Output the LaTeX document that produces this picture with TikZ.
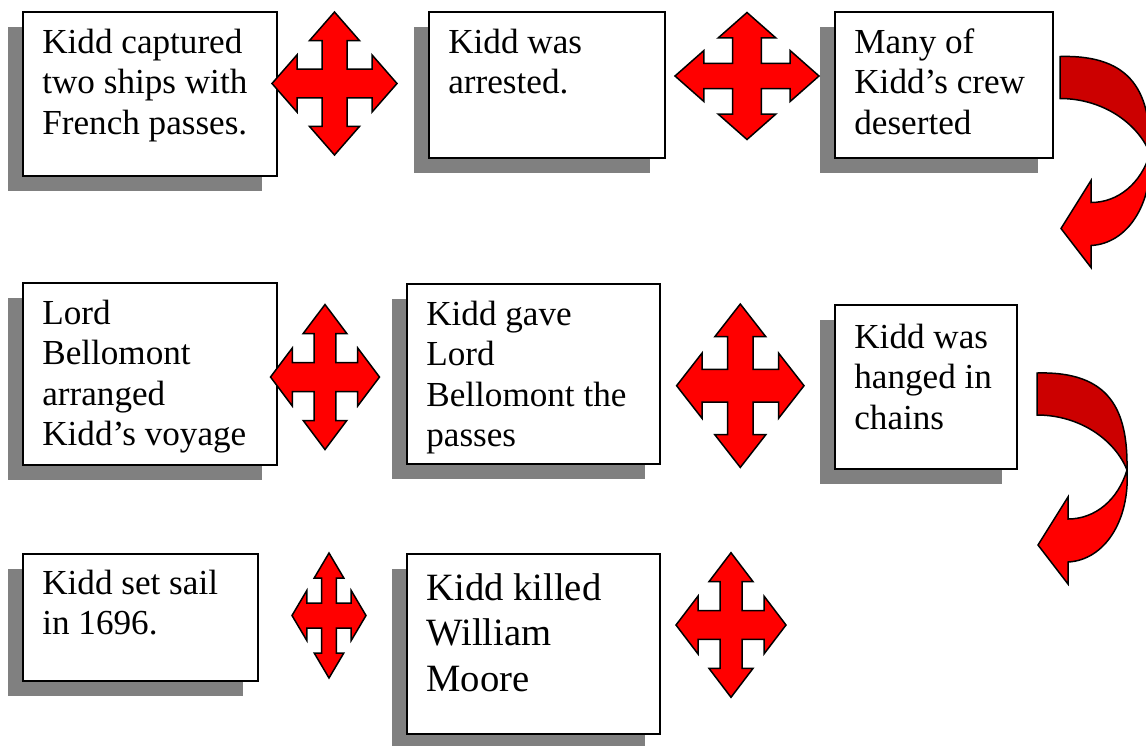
\documentclass[tikz,border=0pt]{standalone}
\usepackage{fontspec}
\setmainfont{LiberationSerif}[Extension=.ttf, UprightFont=*-Regular, BoldFont=*-Bold, ItalicFont=*-Italic, BoldItalicFont=*-BoldItalic]
\usetikzlibrary{shadows}
\newcommand\topstrut{\rule{0pt}{16pt}}
\newcommand\bigtopstrut{\rule{0pt}{18pt}}
\newcommand\quadarrow[4]{%
  \begin{scope}[shift={(#1,#2)}, xscale=#3, yscale=#4]
    \draw[quad] (0,1) -- (0.4,0.6) -- (0.2,0.6) -- (0.2,0.2) -- (0.6,0.2) -- (0.6,0.4) -- (1,0)
      -- (0.6,-0.4) -- (0.6,-0.2) -- (0.2,-0.2) -- (0.2,-0.6) -- (0.4,-0.6) -- (0,-1)
      -- (-0.4,-0.6) -- (-0.2,-0.6) -- (-0.2,-0.2) -- (-0.6,-0.2) -- (-0.6,-0.4) -- (-1,0)
      -- (-0.6,0.4) -- (-0.6,0.2) -- (-0.2,0.2) -- (-0.2,0.6) -- (-0.4,0.6) -- cycle;
  \end{scope}}
\newcommand\curvedarrow[2]{%
  \begin{scope}[shift={(#1,#2)}]
    \draw[darkband] (1037,373) -- (1037,415)
      .. controls (1080,415) and (1115,440) .. (1127,470)
      .. controls (1128,410) and (1110,371) .. (1037,373) -- cycle;
    \draw[brightband] (1127,470)
      .. controls (1118,500) and (1095,519) .. (1068,519)
      -- (1068,497) -- (1038,545) -- (1068,584) -- (1068,562)
      .. controls (1105,560) and (1130,520) .. (1127,470) -- cycle;
  \end{scope}}
\tikzset{
  box/.style={draw=black, line width=1pt, fill=white, rectangle, inner sep=0pt,
    anchor=north west,
    drop shadow={shadow xshift=-0.3cm, shadow yshift=-0.3cm, fill=black!50, opacity=1, draw=none}},
  txt/.style={anchor=north west, inner sep=0pt, align=left, font=\fontsize{20}{23}\selectfont},
  bigtxt/.style={anchor=north west, inner sep=0pt, align=left, font=\fontsize{22}{26}\selectfont},
  quad/.style={draw=black, line width=0.85pt, fill=red},
  darkband/.style={draw=black, line width=0.85pt, fill=red!80!black},
  brightband/.style={draw=black, line width=0.85pt, fill=red},
}
\begin{document}
\begin{tikzpicture}[x=0.02cm, y=-0.02cm]
\useasboundingbox[fill=white] (0,0) rectangle (1146,745);

% boxes
\node[box, minimum width=5.08cm, minimum height=3.28cm] (b1) at (22,11) {};
\node[box, minimum width=4.72cm, minimum height=2.92cm] (b2) at (428,11) {};
\node[box, minimum width=4.36cm, minimum height=2.92cm] (b3) at (834,11) {};
\node[box, minimum width=5.08cm, minimum height=3.64cm] (b4) at (22,282) {};
\node[box, minimum width=5.06cm, minimum height=3.60cm] (b5) at (406,283) {};
\node[box, minimum width=3.64cm, minimum height=3.28cm] (b6) at (834,304) {};
\node[box, minimum width=4.70cm, minimum height=2.54cm] (b7) at (22,553) {};
\node[box, minimum width=5.06cm, minimum height=3.60cm] (b8) at (406,553) {};

% texts
\node[txt] (t1) at (42,24.8) {\topstrut Kidd captured\\two ships with\\French passes.};
\node[txt] (t2) at (448,24.8) {\topstrut Kidd was\\arrested.};
\node[txt] (t3) at (854,24.8) {\topstrut Many of\\Kidd’s crew\\deserted};
\node[txt] (t4) at (42,295.8) {\topstrut Lord\\Bellomont\\arranged\\Kidd’s voyage};
\node[txt] (t5) at (426,296.8) {\topstrut Kidd gave\\Lord\\Bellomont the\\passes};
\node[txt] (t6) at (854,319.8) {\topstrut Kidd was\\hanged in\\chains};
\node[txt] (t7) at (42,565.8) {\topstrut Kidd set sail\\in 1696.};
\node[bigtxt] (t8) at (426,568.2) {\bigtopstrut Kidd killed\\William\\Moore};

% four-way arrows
\quadarrow{334.5}{83.5}{62.5}{71.5}
\quadarrow{747}{76}{72}{63.5}
\quadarrow{325}{377}{54.5}{72.5}
\quadarrow{740.3}{385.7}{63.7}{81.7}
\quadarrow{329}{615.5}{37}{62.5}
\quadarrow{731}{625}{55}{72.3}

% curved arrows
\begin{scope}
  \clip (0,0) rectangle (1146,745);
  \curvedarrow{23}{-316.5}
  \curvedarrow{0}{0}
\end{scope}
\end{tikzpicture}
\end{document}
